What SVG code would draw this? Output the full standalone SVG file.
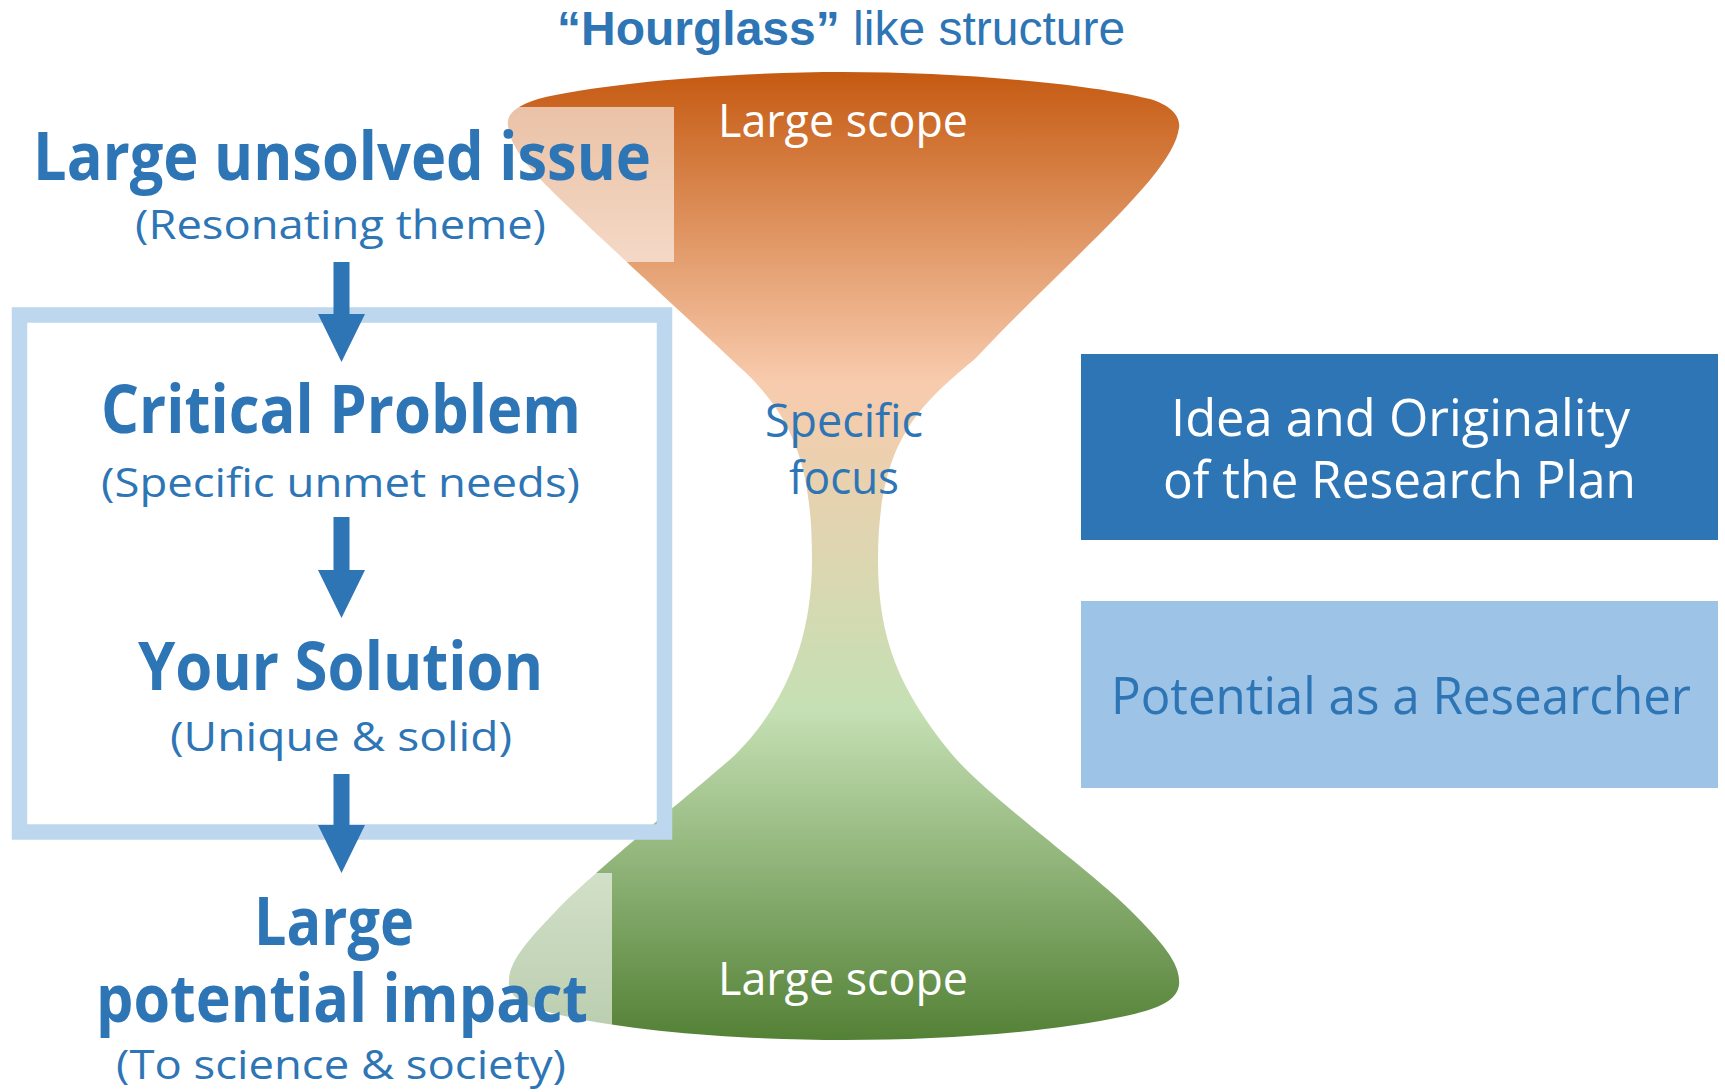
<svg xmlns="http://www.w3.org/2000/svg" width="1725" height="1092" viewBox="0 0 1725 1092">
  <style>
    .hdr { font-family: "Open Sans", "Noto Sans", "DejaVu Sans", sans-serif; font-weight: 700; font-size: 66px; fill: #2E75B6; }
    .sub { font-family: "Open Sans", "Noto Sans", "DejaVu Sans", sans-serif; font-weight: 400; font-size: 40px; fill: #2E75B6; }
    .scope { font-family: "Open Sans", "Noto Sans", "DejaVu Sans", sans-serif; font-weight: 400; font-size: 46px; fill: #FFFFFF; }
    .focus { font-family: "Open Sans", "Noto Sans", "DejaVu Sans", sans-serif; font-weight: 400; font-size: 46px; fill: #2E75B6; }
    .boxtxt { font-family: "Open Sans", "Noto Sans", "DejaVu Sans", sans-serif; font-weight: 400; font-size: 52px; }
    .title { font-family: "Liberation Sans", Arial, sans-serif; font-size: 48px; fill: #2E75B6; }
    .arrow { fill: #2E75B6; }
  </style>
  <defs>
    <linearGradient id="hg" gradientUnits="userSpaceOnUse" x1="0" y1="72" x2="0" y2="1040">
      <stop offset="0" stop-color="#C55A11"/>
      <stop offset="0.32" stop-color="#F8CBAD"/>
      <stop offset="0.66" stop-color="#C5E0B4"/>
      <stop offset="1" stop-color="#538135"/>
    </linearGradient>
  </defs>
  <rect width="1725" height="1092" fill="#FFFFFF"/>

  <g id="hourglass">
    <path fill="url(#hg)" d="M 508,126 C 506,114 516,106 538,99 C 596,84 730,72 843,72 C 960,72 1090,84 1150,99 C 1170,105 1181,116 1179,128 C 1177,142 1168,158 1150,180 C 1110,228 1030,300 976,358 C 920,405 878,440 878,560 C 878,640 900,690 950,752 C 985,795 1090,870 1130,910 C 1165,945 1181,965 1179,985 C 1177,1000 1160,1008 1130,1015 C 1050,1033 940,1040 845,1040 C 750,1040 640,1033 560,1015 C 530,1008 511,1000 509,985 C 507,965 523,945 555,912 C 595,870 690,795 735,755 C 785,705 812,640 812,560 C 812,470 795,420 745,372 C 690,320 580,220 543,182 C 525,163 510,145 508,126 Z"/>
    <rect x="480" y="107" width="194" height="155" fill="#FFFFFF" fill-opacity="0.6"/>
    <rect x="480" y="873" width="132" height="154" fill="#FFFFFF" fill-opacity="0.6"/>
    <text class="scope" x="718" y="137" textLength="250" lengthAdjust="spacingAndGlyphs">Large scope</text>
    <text class="focus" x="765" y="437" textLength="158" lengthAdjust="spacingAndGlyphs">Specific</text>
    <text class="focus" x="789" y="494" textLength="110" lengthAdjust="spacingAndGlyphs">focus</text>
    <text class="scope" x="718" y="995" textLength="250" lengthAdjust="spacingAndGlyphs">Large scope</text>
  </g>

  <g id="title">
    <text class="title" x="557" y="45"><tspan font-weight="700">“Hourglass”</tspan> like structure</text>
  </g>

  <g id="scope-box">
    <rect x="19.5" y="315" width="645" height="517" fill="none" stroke="#BDD7EE" stroke-width="15.5"/>
  </g>

  <g id="large-unsolved-issue">
    <text class="hdr" x="33" y="180" textLength="618" lengthAdjust="spacingAndGlyphs">Large unsolved issue</text>
    <text class="sub" x="135" y="239" textLength="411" lengthAdjust="spacingAndGlyphs">(Resonating theme)</text>
  </g>

  <g id="critical-problem">
    <text class="hdr" x="101" y="433" textLength="480" lengthAdjust="spacingAndGlyphs">Critical Problem</text>
    <text class="sub" x="101" y="497" textLength="479" lengthAdjust="spacingAndGlyphs">(Specific unmet needs)</text>
  </g>

  <g id="your-solution">
    <text class="hdr" x="138" y="690" textLength="405" lengthAdjust="spacingAndGlyphs">Your Solution</text>
    <text class="sub" x="170" y="751" textLength="342" lengthAdjust="spacingAndGlyphs">(Unique &amp; solid)</text>
  </g>

  <g id="large-potential-impact">
    <text class="hdr" x="254" y="945" textLength="160" lengthAdjust="spacingAndGlyphs">Large</text>
    <text class="hdr" x="96" y="1022" textLength="492" lengthAdjust="spacingAndGlyphs">potential impact</text>
    <text class="sub" x="116" y="1079" textLength="450" lengthAdjust="spacingAndGlyphs">(To science &amp; society)</text>
  </g>

  <g id="idea-originality">
    <rect x="1081" y="354" width="637" height="186" fill="#2E75B6"/>
    <text class="boxtxt" fill="#FFFFFF" x="1171" y="436" textLength="459" lengthAdjust="spacingAndGlyphs">Idea and Originality</text>
    <text class="boxtxt" fill="#FFFFFF" x="1163" y="498" textLength="473" lengthAdjust="spacingAndGlyphs">of the Research Plan</text>
  </g>

  <g id="potential-researcher">
    <rect x="1081" y="601" width="637" height="187" fill="#9DC3E6"/>
    <text class="boxtxt" fill="#2E75B6" x="1111" y="714" textLength="580" lengthAdjust="spacingAndGlyphs">Potential as a Researcher</text>
  </g>

  <g id="connectors">
    <path class="arrow" d="M 333.5,262 H 349.5 V 314 H 365 L 341.5,362 L 318,314 H 333.5 Z"/>
    <path class="arrow" d="M 333.5,517 H 349.5 V 570 H 365 L 341.5,618 L 318,570 H 333.5 Z"/>
    <path class="arrow" d="M 333.5,774 H 349.5 V 825 H 365 L 341.5,873 L 318,825 H 333.5 Z"/>
  </g>
</svg>
